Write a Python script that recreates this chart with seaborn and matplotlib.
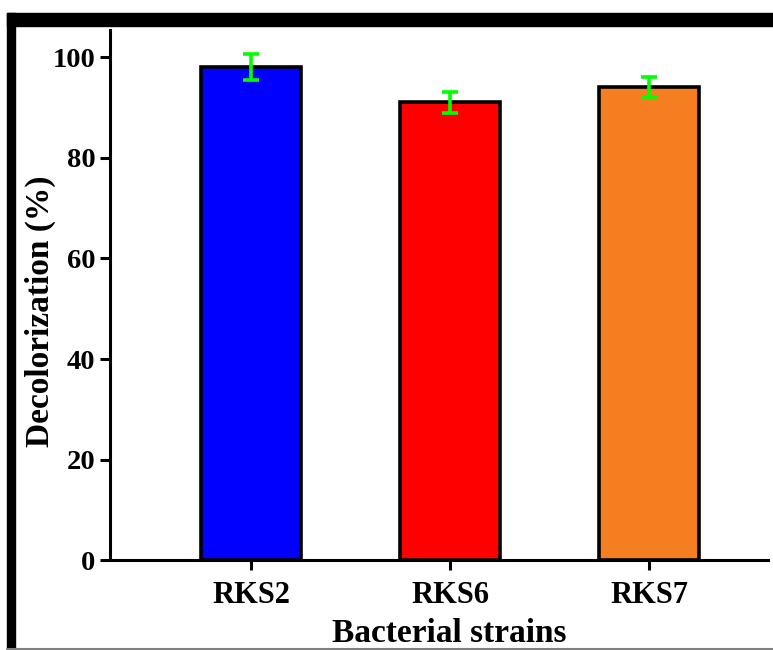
import numpy as np
import pandas as pd
import matplotlib
matplotlib.use("Agg")
import matplotlib.pyplot as plt
import seaborn as sns
from matplotlib.patches import Rectangle
from matplotlib.lines import Line2D

# data
strains = ["RKS2", "RKS6", "RKS7"]
decolorization = [98.0, 91.0, 94.0]
errors = [2.6, 2.1, 2.0]
bar_colors = ["#0000FF", "#FF0000", "#F57F20"]

df = pd.DataFrame({"strain": strains, "value": decolorization})

sns.set_style("ticks")
plt.rcParams['font.family'] = ['Liberation Serif', 'DejaVu Serif']
plt.rcParams['font.weight'] = 'bold'
plt.rcParams['text.color'] = 'black'
plt.rcParams['axes.labelcolor'] = 'black'
plt.rcParams['xtick.color'] = 'black'
plt.rcParams['ytick.color'] = 'black'
plt.rcParams['axes.edgecolor'] = 'black'

fig = plt.figure(figsize=(7.73, 6.5), dpi=100)
ax = fig.add_axes([0.142, 0.138, 0.852, 0.816])

sns.barplot(data=df, x="strain", y="value", hue="strain", palette=bar_colors,
            width=0.5, errorbar=None, legend=False, edgecolor="black",
            linewidth=2.6, saturation=1, ax=ax)
ax.errorbar(x=np.arange(len(strains)), y=decolorization, yerr=errors, fmt="none",
            ecolor="#00FF00", elinewidth=2.6, capsize=5.5, capthick=2.6, zorder=5)

ax.set_xlim(-0.71, 2.6)
ax.set_ylim(0, 105.4)
ax.set_yticks([0, 20, 40, 60, 80, 100])
ax.set_xlabel("Bacterial strains", fontsize=24, fontweight="bold")
ax.set_ylabel("Decolorization (%)", fontsize=24, fontweight="bold")
ax.xaxis.set_label_coords(0.516, -0.108)
ax.yaxis.set_label_coords(-0.081, 0.47)
ax.tick_params(axis="y", labelsize=20.5, width=2.2, length=7, direction="out")
ax.tick_params(axis="x", labelsize=22, width=2.2, length=7, direction="out", pad=8)
for lbl in ax.get_xticklabels() + ax.get_yticklabels():
    lbl.set_fontweight("bold")
sns.despine(ax=ax)
for s in ["left", "bottom"]:
    ax.spines[s].set_linewidth(2.2)

# black frame like the original screenshot
fig.patches.append(Rectangle((7 / 773, 0), 8 / 773, 1 - 13 / 650, transform=fig.transFigure,
                             color="black", zorder=0))
fig.patches.append(Rectangle((7 / 773, 1 - 26 / 650), 1 - 7 / 773, 13 / 650,
                             transform=fig.transFigure, color="black", zorder=0))
fig.lines.append(Line2D([7 / 773, 1], [1.5 / 650, 1.5 / 650], transform=fig.transFigure,
                        color="gray", linewidth=1.5))

fig.savefig("out.png", dpi=100)
